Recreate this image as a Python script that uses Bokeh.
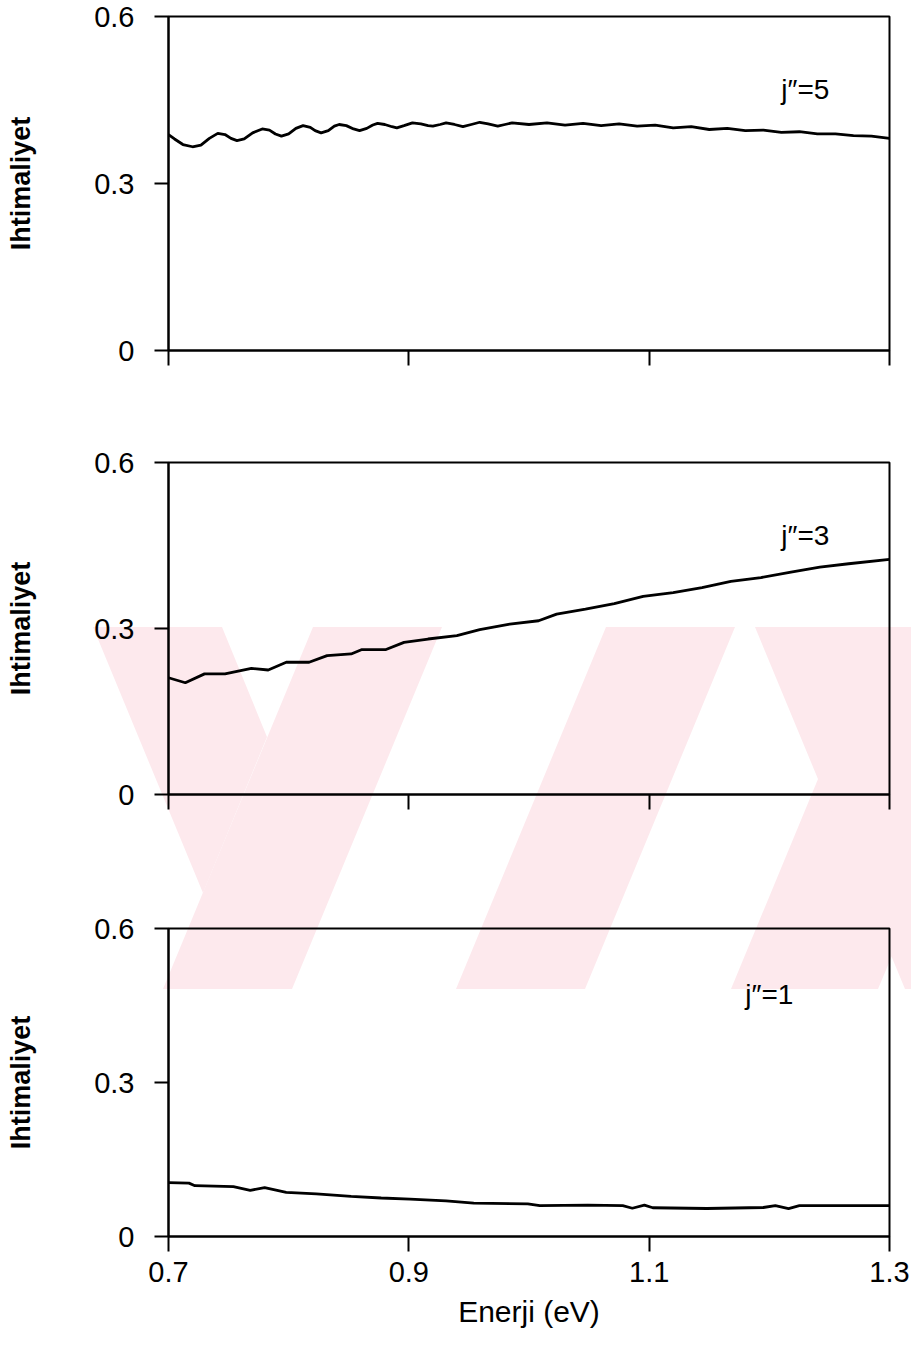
from bokeh.plotting import figure
from bokeh.layouts import column
from bokeh.models import Range1d, FixedTicker, CustomJSTickFormatter
from bokeh.embed import file_html
from bokeh.resources import INLINE
from bokeh.core.properties import value

# ---------------- data ----------------
energy_j5 = [0.700, 0.705, 0.712, 0.720, 0.727, 0.734, 0.741, 0.747, 0.752, 0.757,
             0.763, 0.770, 0.778, 0.784, 0.789, 0.794, 0.800, 0.806, 0.812, 0.818,
             0.822, 0.827, 0.833, 0.838, 0.842, 0.848, 0.854, 0.859, 0.865, 0.870,
             0.874, 0.880, 0.886, 0.890, 0.896, 0.903, 0.910, 0.916, 0.920, 0.926,
             0.931, 0.938, 0.945, 0.952, 0.959, 0.966, 0.974, 0.980, 0.986, 1.000,
             1.015, 1.030, 1.045, 1.060, 1.075, 1.090, 1.105, 1.120, 1.135, 1.150,
             1.165, 1.180, 1.195, 1.210, 1.225, 1.240, 1.255, 1.270, 1.285, 1.300]
prob_j5 = [0.388, 0.380, 0.370, 0.366, 0.369, 0.381, 0.390, 0.388, 0.381, 0.377,
           0.380, 0.391, 0.398, 0.396, 0.389, 0.385, 0.389, 0.399, 0.404, 0.401,
           0.395, 0.391, 0.395, 0.403, 0.406, 0.404, 0.398, 0.395, 0.399, 0.405,
           0.408, 0.406, 0.402, 0.400, 0.404, 0.409, 0.407, 0.404, 0.403, 0.406,
           0.409, 0.406, 0.402, 0.406, 0.410, 0.407, 0.403, 0.406, 0.409, 0.406,
           0.409, 0.405, 0.408, 0.404, 0.407, 0.403, 0.405, 0.400, 0.402, 0.397,
           0.399, 0.395, 0.396, 0.392, 0.393, 0.389, 0.389, 0.386, 0.385, 0.381]

energy_j3 = [0.700, 0.714, 0.730, 0.747, 0.769, 0.783, 0.798, 0.817, 0.832, 0.852,
             0.861, 0.881, 0.896, 0.916, 0.940, 0.959, 0.984, 1.008, 1.023, 1.047,
             1.071, 1.095, 1.120, 1.144, 1.168, 1.193, 1.218, 1.242, 1.266, 1.300]
prob_j3 = [0.211, 0.202, 0.218, 0.218, 0.228, 0.225, 0.239, 0.239, 0.251, 0.254,
           0.262, 0.262, 0.275, 0.281, 0.287, 0.298, 0.308, 0.314, 0.326, 0.335,
           0.345, 0.358, 0.365, 0.374, 0.385, 0.392, 0.402, 0.411, 0.417, 0.425]

energy_j1 = [0.700, 0.717, 0.722, 0.754, 0.768, 0.780, 0.798, 0.823, 0.852, 0.877,
             0.901, 0.931, 0.954, 0.999, 1.009, 1.049, 1.078, 1.086, 1.096, 1.103,
             1.148, 1.195, 1.205, 1.216, 1.225, 1.300]
prob_j1 = [0.105, 0.104, 0.099, 0.097, 0.090, 0.095, 0.086, 0.083, 0.078, 0.075,
           0.073, 0.0695, 0.065, 0.0636, 0.060, 0.061, 0.060, 0.055, 0.061, 0.056,
           0.0545, 0.0565, 0.060, 0.0545, 0.060, 0.060]

x_ticks = [0.7, 0.9, 1.1, 1.3]
x_tick_labels = ["0.7", "0.9", "1.1", "1.3"]
y_ticks = [0.0, 0.3, 0.6]
y_tick_labels = ["0", "0.3", "0.6"]
panel_labels = ["j\u2033=5", "j\u2033=3", "j\u2033=1"]
y_title = "Ihtimaliyet"
x_title = "Enerji (eV)"

FONT = "Liberation Sans"
TICK_JS = """
let k = -1;
for (let m = 0; m < tv.length; m++) { if (Math.abs(tv[m] - tick) < 1e-9) { k = m; } }
return k >= 0 ? tl[k] : "";
"""

# faint pink scan watermark behind the panels (page decoration, pixel outline)
WM_COLOR = "%23fde9ed"
WM_SHAPES = [
    "313,627 442,627 292,989 163,989",
    "606,627 735,627 585,989 456,989",
    "881,627 1030,627 878,989 731,989",
    "93,627 222,627 267,737 203,893",
    "755,627 889,627 1039,989 905,989",
]
wm_svg = ("<svg xmlns='http://www.w3.org/2000/svg' width='920' height='1346'>"
          + "".join(f"<polygon points='{pts}' fill='{WM_COLOR}'/>" for pts in WM_SHAPES)
          + "</svg>")


def make_panel(xs, ys, label, lab_x, lab_y, height, top, bottom, show_x):
    p = figure(width=911, height=height, output_backend="svg", toolbar_location=None,
               title=None, x_range=Range1d(0.7, 1.3), y_range=Range1d(0, 0.6),
               min_border_left=168, min_border_right=22,
               min_border_top=top, min_border_bottom=bottom)
    p.grid.visible = False
    p.outline_line_color = "black"
    p.outline_line_width = 2
    p.background_fill_color = None
    p.border_fill_color = None

    p.line(xs, ys, line_color="black", line_width=2.8)
    p.text(x=[lab_x], y=[lab_y], text=[label], text_font=value(FONT),
           text_font_size="28px", text_baseline="alphabetic", text_align="left",
           text_color="black")

    xa = p.xaxis[0]
    xa.ticker = FixedTicker(ticks=x_ticks)
    xa.axis_line_width = 2
    xa.major_tick_line_width = 2
    xa.major_tick_out = 15
    xa.major_tick_in = 0
    xa.minor_tick_line_color = None
    xa.major_label_text_font = FONT
    xa.major_label_text_font_size = "29px"
    xa.major_label_text_color = "black"
    xa.major_label_standoff = 10
    if show_x:
        xa.formatter = CustomJSTickFormatter(args=dict(tv=x_ticks, tl=x_tick_labels), code=TICK_JS)
        xa.axis_label = x_title
        xa.axis_label_text_font = FONT
        xa.axis_label_text_font_size = "30px"
        xa.axis_label_text_font_style = "normal"
        xa.axis_label_text_color = "black"
        xa.axis_label_standoff = 10
    else:
        xa.formatter = CustomJSTickFormatter(code="return '';")

    ya = p.yaxis[0]
    ya.ticker = FixedTicker(ticks=y_ticks)
    ya.formatter = CustomJSTickFormatter(args=dict(tv=y_ticks, tl=y_tick_labels), code=TICK_JS)
    ya.axis_line_width = 2
    ya.major_tick_line_width = 2
    ya.major_tick_out = 14
    ya.major_tick_in = 0
    ya.minor_tick_line_color = None
    ya.major_label_text_font = FONT
    ya.major_label_text_font_size = "29px"
    ya.major_label_text_color = "black"
    ya.major_label_standoff = 20
    ya.axis_label = y_title
    ya.axis_label_text_font = FONT
    ya.axis_label_text_font_size = "27px"
    ya.axis_label_text_font_style = "bold"
    ya.axis_label_text_color = "black"
    ya.axis_label_standoff = 55
    return p


p1 = make_panel(energy_j5, prob_j5, panel_labels[0], 1.210, 0.469, 419, 16, 69, False)
p2 = make_panel(energy_j3, prob_j3, panel_labels[1], 1.210, 0.468, 460, 43, 85, False)
p3 = make_panel(energy_j1, prob_j1, panel_labels[2], 1.180, 0.472, 465, 49, 108, True)

layout = column(p1, p2, p3, spacing=0,
                styles={"background-image": f'url("data:image/svg+xml;utf8,{wm_svg}")',
                        "background-repeat": "no-repeat",
                        "background-position": "0px 0px"})
open("out.html", "w").write(file_html(layout, INLINE))
